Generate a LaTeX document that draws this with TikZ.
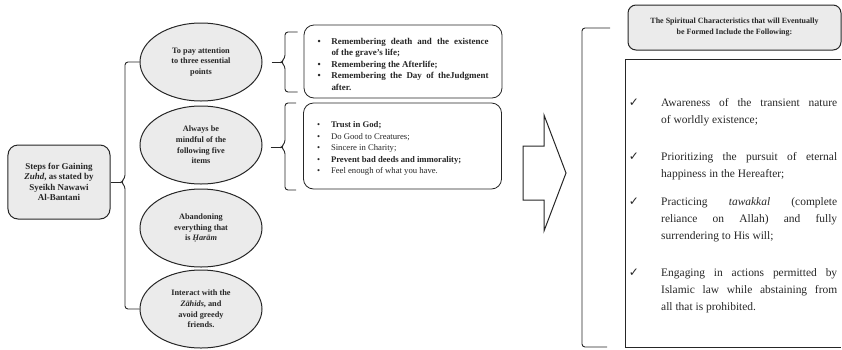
\documentclass[tikz,border=0pt]{standalone}
\usepackage{fontspec}
\setmainfont{Liberation Serif}
\newfontfamily\dejavu{DejaVu Sans}
\usetikzlibrary{shapes.geometric,calc}
\definecolor{boxgray}{HTML}{EBEBEB}
\definecolor{ink}{HTML}{262626}
\newcommand\lbul[1]{\par\hangindent=14bp\hangafter=1\noindent\makebox[14bp][l]{\textbullet}#1\par}
\tikzset{
  ell/.style={ellipse, draw=ink, fill=boxgray, line width=1bp, minimum width=122bp, minimum height=78bp,
    inner sep=0pt, align=center, font=\fontsize{8.3}{10.7}\selectfont\bfseries},
  stepbox/.style={rectangle, rounded corners=10bp, draw=ink, fill=boxgray, line width=1bp,
    minimum width=102bp, minimum height=74bp, inner sep=0pt, align=center,
    font=\fontsize{9}{10.3}\selectfont\bfseries},
  listbox/.style={rectangle, rounded corners=10bp, draw=ink, fill=white, line width=0.8bp,
    minimum width=198bp, text width=171bp, inner sep=0pt, align=justify},
  headbox/.style={rectangle, rounded corners=8bp, draw=ink, fill=boxgray, line width=1bp,
    minimum width=213bp, minimum height=45bp, inner sep=0pt, align=center,
    font=\fontsize{8}{11}\selectfont\bfseries},
  itemtext/.style={anchor=north west, text width=176bp, inner sep=0pt, align=justify,
    font=\fontsize{11.5}{17}\selectfont},
  chk/.style={inner sep=0pt, font=\dejavu\fontsize{12}{12}\selectfont},
  brk/.style={draw=ink, line width=0.9bp, rounded corners=3bp},
}
\begin{document}
\begin{tikzpicture}[x=1bp,y=-1bp, color=ink]
\useasboundingbox (0,0) rectangle (842,349);

% left box
\node[stepbox] (steps) at (59,182) {Steps for Gaining\\\textit{Zuhd}, as stated by\\Syeikh Nawawi\\Al-Bantani};

% ellipses
\node[ell] (e1) at (201,62) {To pay attention\\to three essential\\points};
\node[ell] (e2) at (201,145) {Always be\\mindful of the\\following five\\items};
\node[ell] (e3) at (201,228) {Abandoning\\everything that\\is \textit{Ḥarām}};
\node[ell] (e4) at (201,309) {Interact with the\\\textit{Zāhids}, and\\avoid greedy\\friends.};

% left bracket
\coordinate (ltip) at (121,182);
\draw[brk] (e1.west) -- (125,62) -- (125,178) -- (ltip) -- (125,186) -- (125,309) -- (e4.west);
\draw[draw=ink, line width=0.9bp] (steps.east) -- (ltip);

% list boxes
\node[listbox, minimum height=73bp, font=\fontsize{9}{11.5}\selectfont\bfseries] (l1) at (403,61.5) {%
\lbul{Remembering death and the existence\linebreak of the grave's life;}%
\lbul{Remembering the Afterlife;}%
\lbul{Remembering the Day of theJudgment\linebreak after.}};
\node[listbox, minimum height=86bp, font=\fontsize{8.7}{11.5}\selectfont] (l2) at (402.5,146) {%
\lbul{\textbf{Trust in God;}}%
\lbul{Do Good to Creatures;}%
\lbul{Sincere in Charity;}%
\lbul{\textbf{Prevent bad deeds and immorality;}}%
\lbul{Feel enough of what you have.}};

% braces
\coordinate (b1tip) at ($(e1.east)+(9,0)$);
\draw[brk] ($(l1.west)+(-6,-29.5)$) -- (285,32) -- (285,58) -- (281,62) -- (285,66) -- (285,92) -- ($(l1.west)+(-6,30.5)$);
\draw[draw=ink, line width=0.9bp] (b1tip) -- (282,62);
\coordinate (b2tip) at ($(e2.east)+(8,2)$);
\draw[brk] ($(l2.west)+(-7,-43)$) -- (285,103) -- (285,143) -- (281,147) -- (285,151) -- (285,190) -- ($(l2.west)+(-7,44)$);
\draw[draw=ink, line width=0.9bp] (b2tip) -- (282,147);

% big arrow
\draw[draw=ink, line width=1bp, line join=miter] (523,146) -- (544,146) -- (544,115) -- (566,173) -- (544,231) -- (544,200) -- (523,200) -- cycle;

% right bracket
\draw[brk] (610,28) -- (582,28) -- (582,347) -- (607,347);

% header box
\node[headbox] (head) at (734.5,27.5) {The Spiritual Characteristics that will Eventually\\be Formed Include the Following:};

% main box (open at the image edge)
\node[rectangle, minimum width=215bp, minimum height=287bp, inner sep=0pt] (mainbox) at (733.5,203.5) {};
\draw[draw=ink, line width=1bp] (mainbox.north east) -- (mainbox.north west) -- (mainbox.south west) -- (mainbox.south east);

% items
\node[itemtext] (t1) at (661,98.5) {Awareness of the transient nature\linebreak of worldly existence;};
\node[itemtext] (t2) at (661,152.5) {Prioritizing the pursuit of eternal\linebreak happiness in the Hereafter;};
\node[itemtext] (t3) at (661,197.5) {Practicing \textit{tawakkal} (complete\linebreak reliance on Allah) and fully\linebreak surrendering to His will;};
\node[itemtext] (t4) at (661,268.5) {Engaging in actions permitted by\linebreak Islamic law while abstaining from\linebreak all that is prohibited.};
\node[chk] (c1) at (634,103) {✓};
\node[chk] (c2) at (634,157) {✓};
\node[chk] (c3) at (634,202) {✓};
\node[chk] (c4) at (634,273) {✓};
\end{tikzpicture}
\end{document}
